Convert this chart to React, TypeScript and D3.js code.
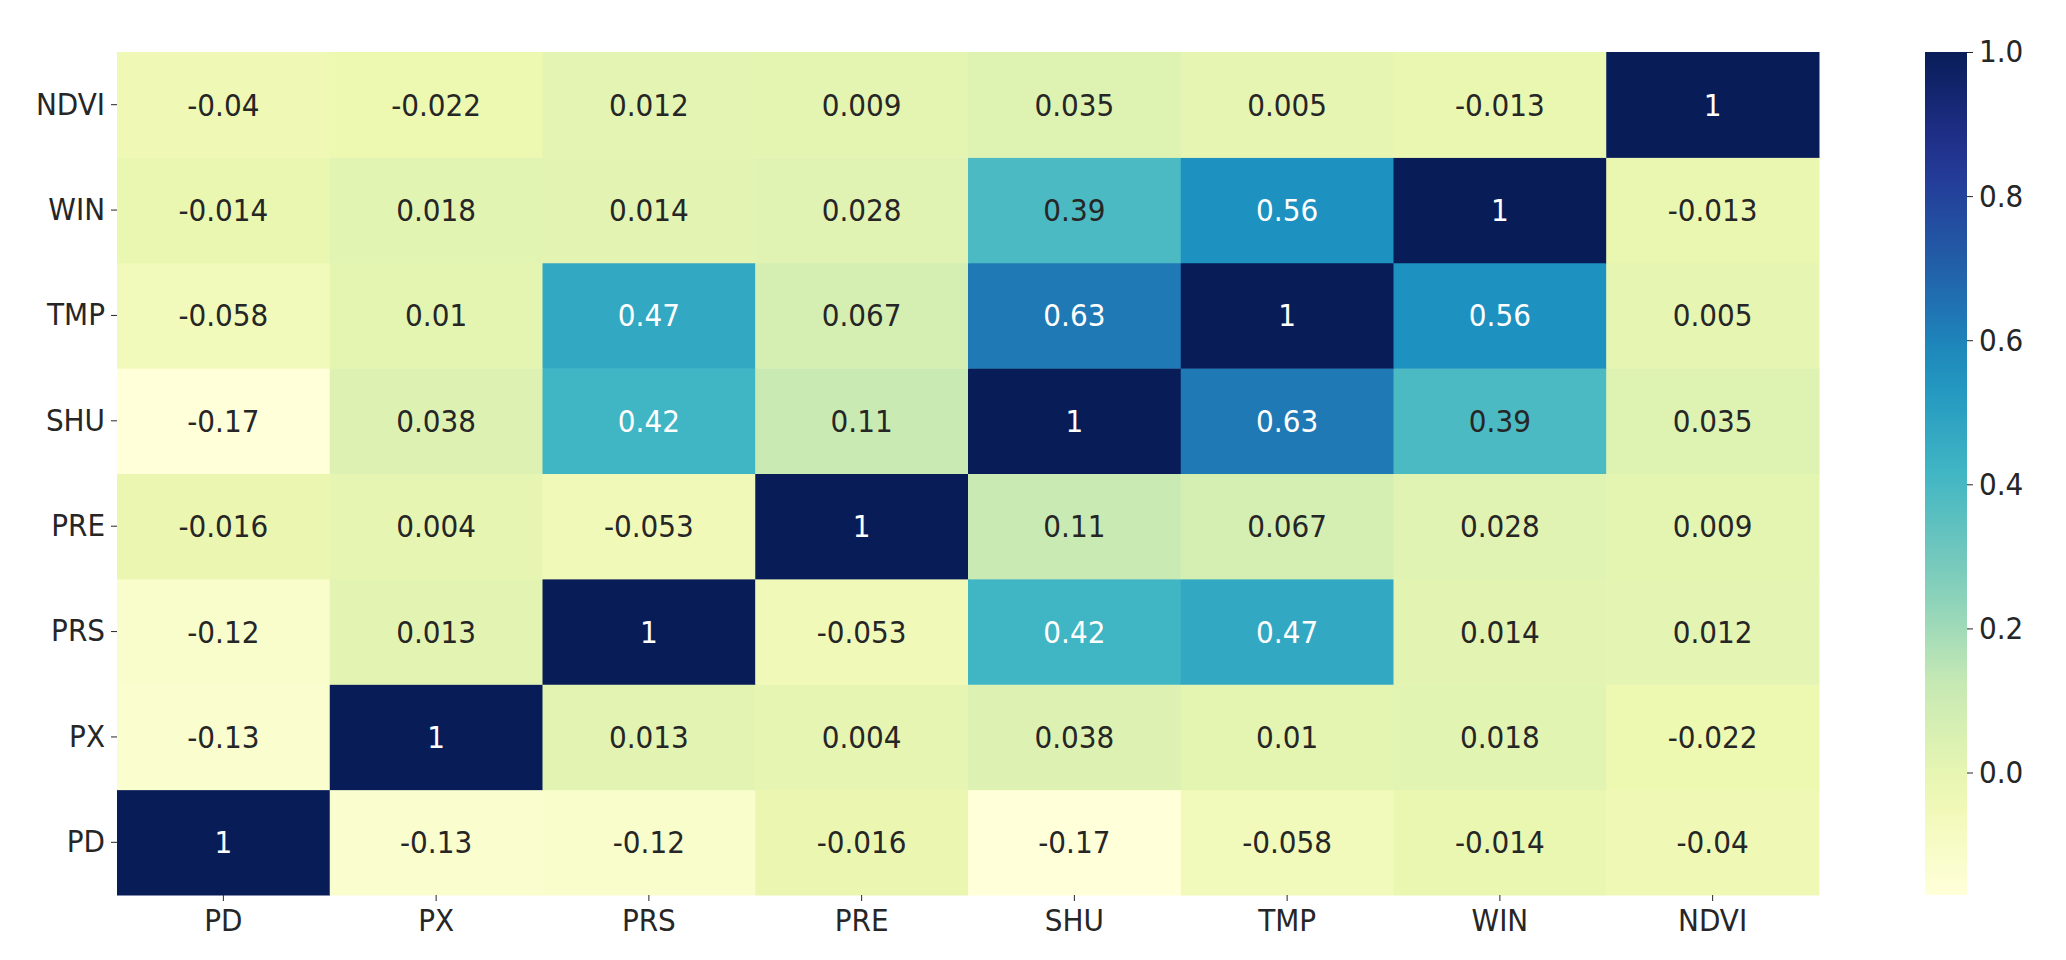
import React, { useRef, useEffect } from 'react'
import * as d3 from 'd3'

// variables, in the order of the columns (left to right) and rows (bottom to top)
const variables = ['PD', 'PX', 'PRS', 'PRE', 'SHU', 'TMP', 'WIN', 'NDVI']

// correlation matrix, one row per variable
const rowPD = [1, -0.13, -0.12, -0.016, -0.17, -0.058, -0.014, -0.04]
const rowPX = [-0.13, 1, 0.013, 0.004, 0.038, 0.01, 0.018, -0.022]
const rowPRS = [-0.12, 0.013, 1, -0.053, 0.42, 0.47, 0.014, 0.012]
const rowPRE = [-0.016, 0.004, -0.053, 1, 0.11, 0.067, 0.028, 0.009]
const rowSHU = [-0.17, 0.038, 0.42, 0.11, 1, 0.63, 0.39, 0.035]
const rowTMP = [-0.058, 0.01, 0.47, 0.067, 0.63, 1, 0.56, 0.005]
const rowWIN = [-0.014, 0.018, 0.014, 0.028, 0.39, 0.56, 1, -0.013]
const rowNDVI = [-0.04, -0.022, 0.012, 0.009, 0.035, 0.005, -0.013, 1]

const matrix = [rowPD, rowPX, rowPRS, rowPRE, rowSHU, rowTMP, rowWIN, rowNDVI]

const colorbarTicks = [0, 0.2, 0.4, 0.6, 0.8, 1.0]

// matplotlib YlGnBu stops
const ylGnBu = ['#ffffd9', '#edf8b1', '#c7e9b4', '#7fcdbb', '#41b6c4', '#1d91c0', '#225ea8', '#253494', '#081d58']

const width = 2066
const height = 960
const margin = { top: 52, left: 117 }
const plotW = 1702
const plotH = 843
const cbar = { x: 1925, w: 42 }
const font = '"DejaVu Sans Condensed", "DejaVu Sans", sans-serif'
const textDark = '#262626'

const App: React.FC = () => {
  const svgRef = useRef<SVGSVGElement | null>(null)

  useEffect(() => {
    if (!svgRef.current) return
    const svg = d3.select(svgRef.current)
    svg.selectAll('*').remove()

    const vmin = d3.min(matrix.flat()) ?? 0
    const vmax = d3.max(matrix.flat()) ?? 1
    const interp = d3.piecewise(d3.interpolateRgb, ylGnBu)
    const norm = (v: number) => (v - vmin) / (vmax - vmin)
    const color = (v: number) => interp(norm(v))

    const x = d3.scaleBand<string>().domain(variables).range([0, plotW])
    const y = d3.scaleBand<string>().domain([...variables].reverse()).range([0, plotH])

    const chart = svg.append('g').attr('transform', `translate(${margin.left},${margin.top})`)

    const cells = variables.flatMap((r, i) =>
      variables.map((c, j) => ({ row: r, col: c, value: matrix[i][j] }))
    )

    chart.selectAll('rect.cell')
      .data(cells)
      .join('rect')
      .attr('class', 'cell')
      .attr('x', d => x(d.col)!)
      .attr('y', d => y(d.row)!)
      .attr('width', x.bandwidth() + 0.5)
      .attr('height', y.bandwidth() + 0.5)
      .attr('fill', d => color(d.value))

    // light text only on the darker half of the colormap
    chart.selectAll('text.annot')
      .data(cells)
      .join('text')
      .attr('class', 'annot')
      .attr('x', d => x(d.col)! + x.bandwidth() / 2)
      .attr('y', d => y(d.row)! + y.bandwidth() / 2)
      .attr('text-anchor', 'middle')
      .attr('dominant-baseline', 'central')
      .style('font-family', font)
      .style('font-size', '31px')
      .attr('fill', d => (norm(d.value) < 0.49 ? textDark : '#ffffff'))
      .text(d => String(d.value))

    // axes
    const xAxis = chart.append('g')
      .attr('transform', `translate(0,${plotH})`)
      .call(d3.axisBottom(x).tickSize(6).tickPadding(8))
    const yAxis = chart.append('g')
      .call(d3.axisLeft(y).tickSize(6).tickPadding(6))

    ;[xAxis, yAxis].forEach(g => {
      g.select('.domain').remove()
      g.selectAll('.tick line').attr('stroke', textDark).attr('stroke-width', 1)
      g.selectAll('.tick text')
        .style('font-family', font)
        .style('font-size', '31px')
        .attr('fill', textDark)
    })

    // colorbar
    const cy = d3.scaleLinear().domain([vmin, vmax]).range([margin.top + plotH, margin.top])
    const grad = svg.append('defs').append('linearGradient')
      .attr('id', 'cbar-grad')
      .attr('x1', 0).attr('y1', 1).attr('x2', 0).attr('y2', 0)
    d3.range(0, 1.0001, 0.05).forEach(t => {
      grad.append('stop')
        .attr('offset', t)
        .attr('stop-color', interp(t))
    })

    svg.append('rect')
      .attr('x', cbar.x)
      .attr('y', cy(vmax))
      .attr('width', cbar.w)
      .attr('height', cy(vmin) - cy(vmax))
      .attr('fill', 'url(#cbar-grad)')

    const cAxis = svg.append('g')
      .attr('transform', `translate(${cbar.x + cbar.w},0)`)
      .call(d3.axisRight(cy).tickValues(colorbarTicks).tickFormat(d3.format('.1f')).tickSize(6).tickPadding(6))
    cAxis.select('.domain').remove()
    cAxis.selectAll('.tick line').attr('stroke', textDark)
    cAxis.selectAll('.tick text')
      .style('font-family', font)
      .style('font-size', '31px')
      .attr('fill', textDark)
  }, [])

  return (
    <svg
      ref={svgRef}
      width={width}
      height={height}
      style={{ position: 'absolute', left: 0, top: 0, background: '#ffffff' }}
    />
  )
}

export default App
